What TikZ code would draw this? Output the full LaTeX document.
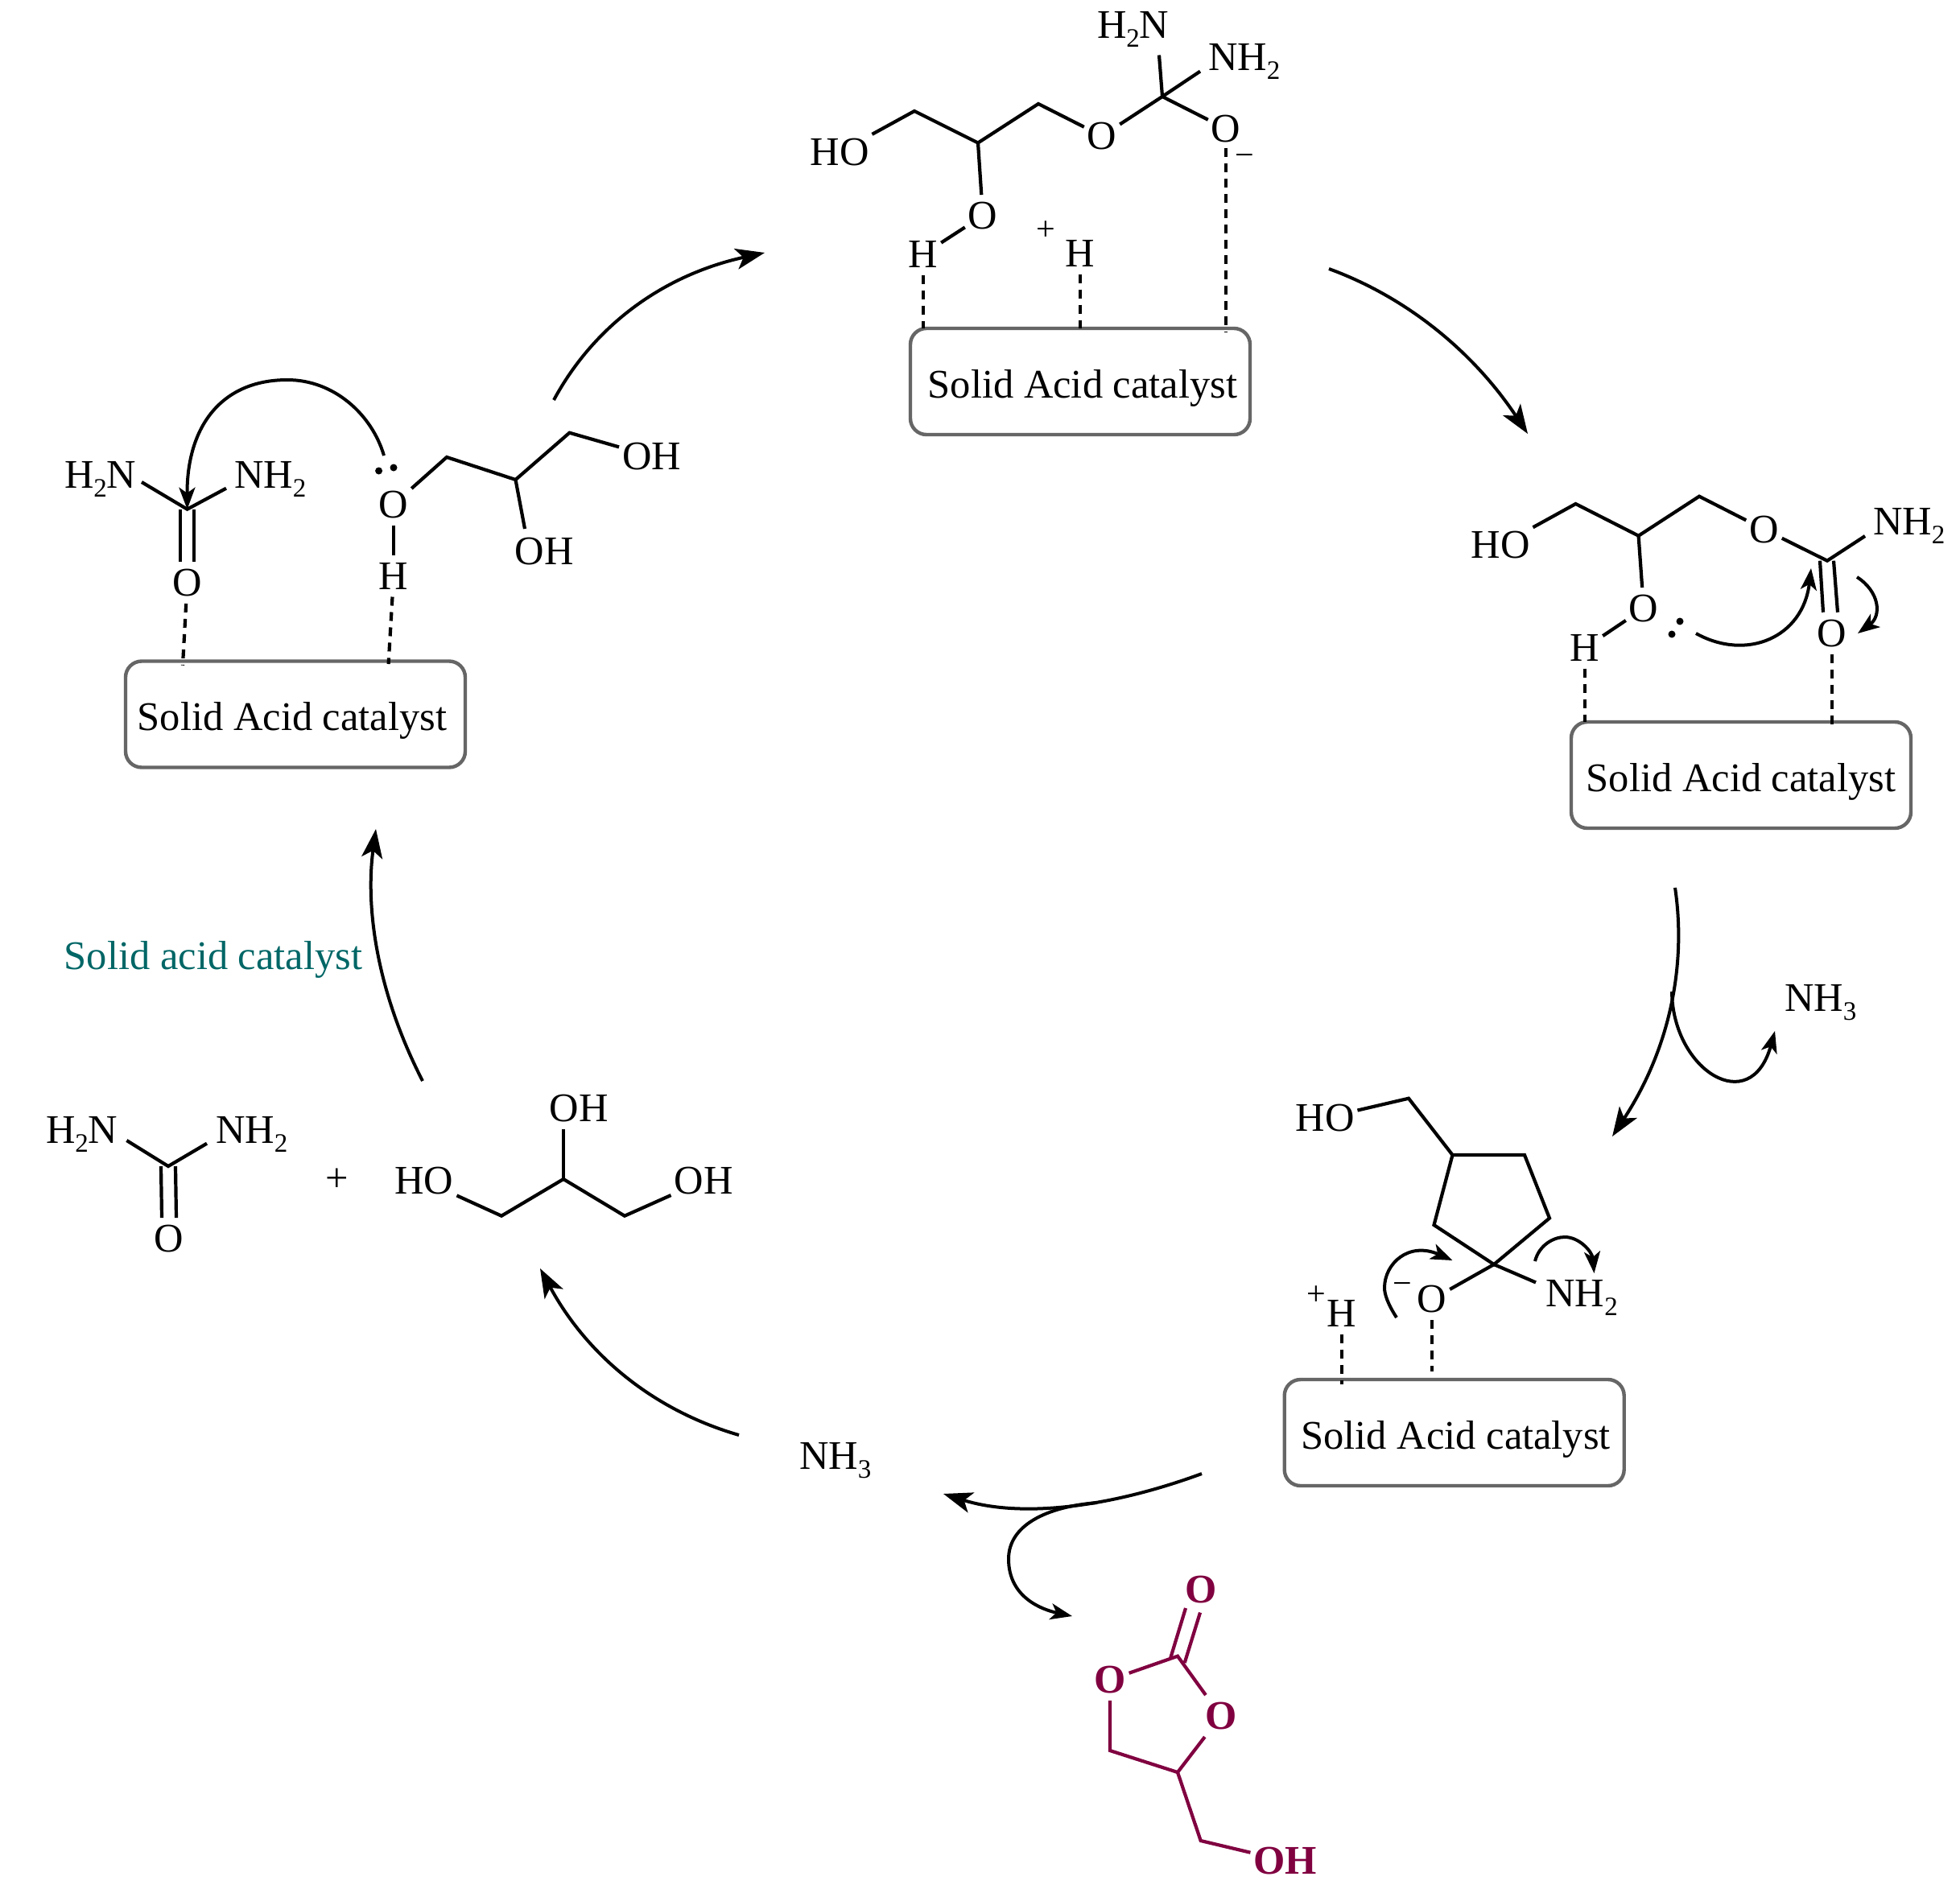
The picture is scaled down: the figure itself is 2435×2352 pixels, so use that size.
\documentclass[tikz,border=0pt]{standalone}
\usepackage{fontspec}
\setmainfont{Liberation Serif}
\usetikzlibrary{arrows.meta}
\newcommand\subn[1]{\raisebox{-11pt}{\fontsize{33}{33}\selectfont #1}}
\definecolor{boxgray}{HTML}{666666}
\definecolor{prodpurple}{HTML}{800040}
\definecolor{catteal}{HTML}{006666}
\tikzset{
  every node/.style={font=\fontsize{50.5}{60}\selectfont, inner sep=0pt, outer sep=0pt},
  atom/.style={inner xsep=4pt, inner ysep=9pt},
  lbl/.style={anchor=base west},
  charge/.style={font=\fontsize{42}{50}\selectfont},
  bond/.style={line width=4.2pt, line join=miter, black},
  thinbond/.style={line width=3.2pt, black},
  hbond/.style={line width=4.2pt, dash pattern=on 11pt off 8pt, black},
  catbox/.style={draw=boxgray, line width=4.4pt, rounded corners=20pt, minimum width=422pt, minimum height=132pt, text height=40pt, text depth=0pt},
  mainarrow/.style={line width=4pt, -{Stealth[length=36pt,width=26pt,inset=9pt]}},
  pusharrow/.style={line width=4pt, -{Stealth[length=27pt,width=20pt,inset=7pt]}},
  prod/.style={line width=4.2pt, prodpurple},
  prodatom/.style={atom, text=prodpurple, font=\fontsize{50.5}{60}\selectfont\bfseries},
  lonepair/.style={fill=black}
}
\begin{document}
\begin{tikzpicture}[x=1pt,y=-1pt]
\useasboundingbox (0,0) rectangle (2435,2352);
\fill[white] (0,0) rectangle (2435,2352);

% ---------- top: tetrahedral intermediate
\node[catbox] (boxT) at (1342,474) {\kern6pt Solid Acid catalyst};
\node[atom] (tHO) at (1043,189) {HO};
\node[atom] (tO1) at (1369,169) {O};
\node[atom] (tO2) at (1523,160) {O};
\node[atom] (tO3) at (1221,268) {O};
\node[atom] (tH1) at (1147,316) {H};
\node[atom] (tH2) at (1342,315) {H};
\node[lbl] (tN1) at (1363,47.5) {H\subn{2}N};
\node[lbl] (tN2) at (1501,87.5) {NH\subn{2}};
\node[charge] (tPlus) at (1299,287) {+};
\node[charge] (tMinus) at (1546,199) {−};
\coordinate (tc1) at (1136,138);
\coordinate (tc2) at (1215,177.5);
\coordinate (tc3) at (1290,129);
\coordinate (tc4) at (1444,120);
\coordinate (tn1) at (1440,68.5);
\coordinate (tn2) at (1491,88.6);
\draw[bond] (tHO) -- (tc1) -- (tc2) -- (tc3) -- (tO1);
\draw[bond] (tO1) -- (tc4) -- (tO2);
\draw[bond] (tc4) -- (tn1);
\draw[bond] (tc4) -- (tn2);
\draw[bond] (tc2) -- (tO3);
\draw[bond] (tO3) -- (tH1);
\draw[hbond] (tH1) -- (tH1 |- boxT.north);
\draw[hbond] (tH2) -- (tH2 |- boxT.north);
\draw[hbond, shorten >=-4pt] ([yshift=2pt]tO2.south) -- (tO2 |- boxT.north);

% ---------- right: carbamate
\node[catbox] (boxR) at (2163,963) {Solid Acid catalyst};
\node[atom] (rHO) at (1864,677.5) {HO};
\node[atom] (rO1) at (2191.5,657.7) {O};
\node[atom] (rO2) at (2276,786.7) {O};
\node[atom] (rO3) at (2042,756) {O};
\node[atom] (rH) at (1969,805) {H};
\node[lbl] (rN) at (2327,664) {NH\subn{2}};
\coordinate (rc1) at (1957.5,626);
\coordinate (rc2) at (2035.6,665.7);
\coordinate (rc3) at (2111,616.7);
\coordinate (rc4) at (2270,696.7);
\coordinate (rn) at (2317,666);
\draw[bond] (rHO) -- (rc1) -- (rc2) -- (rc3) -- (rO1);
\draw[bond] (rO1) -- (rc4) -- (rn);
\draw[bond] ([xshift=-9pt]rc4) -- ([xshift=-11pt]rO2.north);
\draw[bond] ([xshift=8pt]rc4) -- ([xshift=7pt]rO2.north);
\draw[bond] (rc2) -- (rO3);
\draw[bond] (rO3) -- (rH);
\draw[hbond] (rH) -- (rH |- boxR.north);
\draw[hbond, shorten >=-8pt] (rO2) -- (rO2 |- boxR.north);
\fill[lonepair] (2087,772) circle (4.5pt);
\fill[lonepair] (2077,788) circle (4.5pt);
\coordinate (rp1) at (2107,787);
\coordinate (rp2) at (2250,706);
\draw[pusharrow] (rp1) .. controls (2170,822) and (2240,792) .. (rp2);
\coordinate (rp3) at (2307,717);
\coordinate (rp4) at (2308,787);
\draw[pusharrow] (rp3) .. controls (2335,735) and (2338,765) .. (rp4);

% ---------- bottom right: cyclic intermediate
\node[catbox] (boxB) at (1806.7,1780) {\kern4pt Solid Acid catalyst};
\node[atom] (bHO) at (1646,1389) {HO};
\node[atom] (bO) at (1779,1614.5) {O};
\node[atom] (bH) at (1667,1632) {H};
\node[lbl] (bN) at (1920.5,1623) {NH\subn{2}};
\node[charge] (bMinus) at (1742.5,1601) {−};
\node[charge] (bPlus) at (1635,1610) {+};
\coordinate (bc1) at (1750,1364.7);
\coordinate (bc2) at (1804.5,1435);
\coordinate (bc3) at (1894,1435);
\coordinate (bc4) at (1925,1513.5);
\coordinate (bc5) at (1856,1571);
\coordinate (bc6) at (1781.5,1522);
\coordinate (bn) at (1908,1593.4);
\draw[bond] (bHO) -- (bc1) -- (bc2) -- (bc3) -- (bc4) -- (bc5) -- (bc6) -- (bc2);
\draw[bond] (bc5) -- (bO);
\draw[bond] (bc5) -- (bn);
\draw[hbond, shorten >=-6pt] (bH) -- (bH |- boxB.north);
\draw[hbond, shorten >=10pt] (bO) -- (bO |- boxB.north);
\coordinate (bp1) at (1735,1637);
\coordinate (bp2) at (1720,1600);
\coordinate (bp3) at (1804.5,1566);
\draw[pusharrow] (bp1) .. controls (1724,1620) and (1720,1608) .. (bp2) .. controls (1720,1570) and (1750,1542) .. (bp3);
\coordinate (bp4) at (1907,1567);
\coordinate (bp5) at (1944,1537);
\coordinate (bp6) at (1980.5,1582);
\draw[pusharrow] (bp4) .. controls (1912,1547) and (1930,1537) .. (bp5) .. controls (1962,1537) and (1978,1555) .. (bp6);

% ---------- left: adsorbed urea and glycerol
\node[catbox] (boxL) at (367,887.5) {Solid Acid catalyst\kern8pt};
\node[lbl] (lN1) at (80,606) {H\subn{2}N};
\node[lbl] (lN2) at (291,606) {NH\subn{2}};
\node[atom] (lOu) at (232.6,724) {O};
\node[atom] (lO) at (489,626.7) {O};
\node[atom] (lH) at (489,716) {H};
\node[atom] (lOH1) at (809.5,567) {OH};
\node[atom] (lOH2) at (676,685) {OH};
\coordinate (lc) at (232.6,632.7);
\coordinate (ln1) at (176,599);
\coordinate (ln2) at (281,606.7);
\coordinate (lc1) at (555,568);
\coordinate (lc2) at (640.5,596);
\coordinate (lc3) at (707.5,537.7);
\coordinate (loh2) at (652,657);
\coordinate (lbu) at (227,826.7);
\coordinate (lbh) at (482.6,825);
\draw[bond] (ln1) -- (lc) -- (ln2);
\draw[bond] ([xshift=-9pt]lc) -- ([xshift=-9pt]lOu.north);
\draw[bond] ([xshift=8.5pt]lc) -- ([xshift=8.5pt]lOu.north);
\draw[bond] (lO) -- (lc1) -- (lc2) -- (lc3) -- (lOH1);
\draw[bond] (lc2) -- (loh2);
\draw[thinbond] (lO) -- (lH);
\draw[hbond] (lOu) -- (lbu);
\draw[hbond] (lH) -- (lbh);
\fill[lonepair] (470.6,585) circle (4.5pt);
\fill[lonepair] (489,581) circle (4.5pt);
\coordinate (lp1) at (477,566);
\draw[pusharrow] (lp1) .. controls (462,515) and (415,472) .. (357,472) .. controls (275,472) and (232,530) .. (lc);

% ---------- lower left: reactants
\node[lbl] (uN1) at (57,1420) {H\subn{2}N};
\node[lbl] (uN2) at (268,1420) {NH\subn{2}};
\node[atom] (uO) at (210,1539) {O};
\node (plus) at (418.6,1466) {+};
\node[atom] (gHO) at (527,1467) {HO};
\node[atom] (gOHr) at (874,1467) {OH};
\node[atom] (gOHt) at (719,1377) {OH};
\coordinate (uc) at (209,1449);
\coordinate (un1) at (157.4,1417);
\coordinate (un2) at (257,1420.7);
\coordinate (gc1) at (623,1510.7);
\coordinate (gc2) at (700,1465);
\coordinate (gc3) at (776,1510.7);
\coordinate (goh) at (700,1403);
\draw[bond] (un1) -- (uc) -- (un2);
\draw[bond] ([xshift=-9pt]uc) -- ([xshift=-9pt]uO.north);
\draw[bond] ([xshift=9pt]uc) -- ([xshift=9pt]uO.north);
\draw[bond] (gHO) -- (gc1) -- (gc2) -- (gc3) -- (gOHr);
\draw[bond] (gc2) -- (goh);

% ---------- ammonia, catalyst label
\node[lbl] (nh3R) at (2217,1256) {NH\subn{3}};
\node[lbl] (nh3B) at (993,1825) {NH\subn{3}};
\node[text=catteal] (catLabel) at (265,1192) {Solid acid catalyst};

% ---------- product
\node[prodatom] (pOt) at (1491.7,1975) {O};
\node[prodatom] (pOl) at (1379,2087) {O};
\node[prodatom] (pOr) at (1516.7,2132) {O};
\node[prodatom] (pOH) at (1596.7,2312) {OH};
\coordinate (pc) at (1463,2057.7);
\coordinate (pc1) at (1379,2175);
\coordinate (pc2) at (1463,2202);
\coordinate (pc3) at (1491.7,2287);
\coordinate (pd1a) at (1473,1998);
\coordinate (pd1b) at (1454,2060.6);
\coordinate (pd2a) at (1491,2003.5);
\coordinate (pd2b) at (1471.7,2066);
\draw[prod] (pOl) -- (pc) -- (pOr) -- (pc2) -- (pc1) -- (pOl);
\draw[prod] (pc2) -- (pc3) -- (pOH);
\draw[prod] (pd1a) -- (pd1b);
\draw[prod] (pd2a) -- (pd2b);

% ---------- catalytic cycle arrows
\coordinate (a1s) at (688,497);  \coordinate (a1e) at (950,314);
\coordinate (a2s) at (1651,334); \coordinate (a2e) at (1898,539);
\coordinate (a3s) at (2081,1103);\coordinate (a3e) at (2003,1412);
\coordinate (a4s) at (1493,1831);\coordinate (a4e) at (1172,1856);
\coordinate (a5s) at (918,1783); \coordinate (a5e) at (671,1576);
\coordinate (a6s) at (525,1343); \coordinate (a6e) at (467,1030);
\draw[mainarrow] (a1s) .. controls (739.3,402) and (826.7,341) .. (a1e);
\draw[mainarrow] (a2s) .. controls (1748.7,369.7) and (1831,438) .. (a2e);
\draw[mainarrow] (a3s) .. controls (2096.3,1206.7) and (2070.3,1309.7) .. (a3e);
\draw[mainarrow] (a4s) .. controls (1369.7,1876.3) and (1262.7,1884.7) .. (a4e);
\draw[mainarrow] (a5s) .. controls (811,1752) and (728.7,1683) .. (a5e);
\draw[mainarrow] (a6s) .. controls (467,1230) and (454,1125.7) .. (a6e);
\coordinate (a3b) at (2077,1232);
\coordinate (a3c) at (2205,1281);
\draw[pusharrow] (a3b) .. controls (2078,1330) and (2175,1390) .. (a3c);
\coordinate (a4b) at (1363,1867);
\coordinate (a4m) at (1253,1937);
\coordinate (a4c) at (1332,2008);
\draw[pusharrow] (a4b) .. controls (1300,1872) and (1253,1895) .. (a4m) .. controls (1253,1985) and (1295,2000) .. (a4c);
\end{tikzpicture}
\end{document}
